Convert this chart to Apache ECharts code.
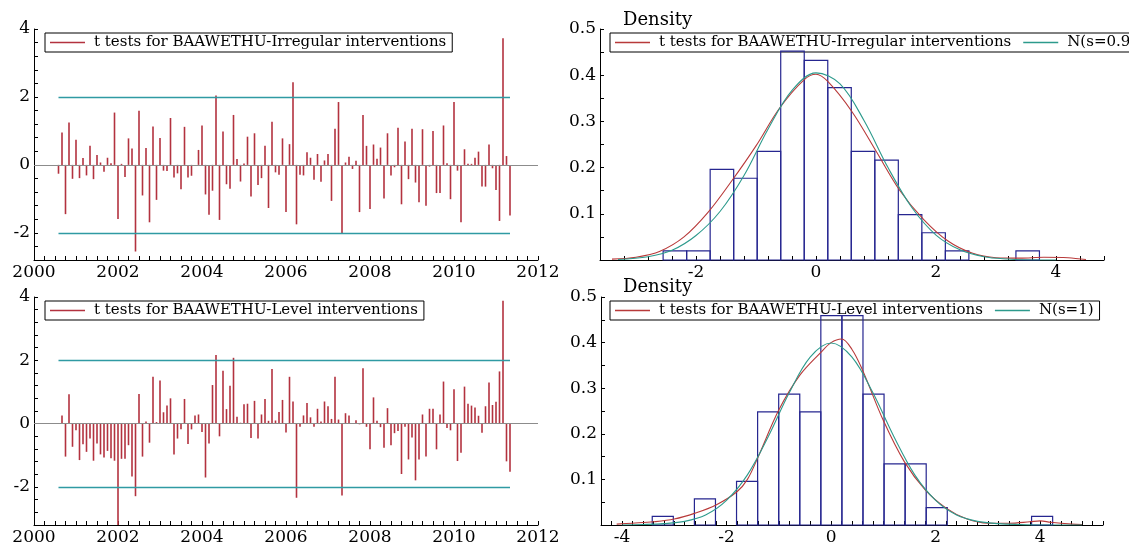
<!DOCTYPE html>
<html>
<head>
<meta charset="utf-8">
<script src="https://cdn.jsdelivr.net/npm/echarts@6/dist/echarts.min.js"></script>
<style>html,body{margin:0;padding:0;background:#fff;}#c{width:1129px;height:546px;}</style>
</head>
<body>
<div id="c"></div>
<script>
// ---------- data ----------
const startYear = 2000, startMonth = 8; // Aug 2000 .. May 2011, monthly
const irregularName = 't tests for BAAWETHU-Irregular interventions';
const levelName = 't tests for BAAWETHU-Level interventions';
const irregularT = [-0.26,0.95,-1.45,1.25,-0.41,0.74,-0.39,0.2,-0.31,0.56,-0.42,0.29,0.07,-0.2,0.21,0.05,1.54,-1.59,0.03,-0.36,
 0.78,0.48,-2.55,1.59,-0.9,0.5,-1.69,1.13,-1.03,0.79,-0.17,-0.18,1.38,-0.37,-0.25,-0.72,1.12,-0.37,-0.32,-0.03,
 0.44,1.16,-0.87,-1.47,-0.76,2.04,-1.62,0.98,-0.57,-0.7,1.47,0.17,-0.49,0.04,0.83,-0.93,0.93,-0.59,-0.39,0.56,
 -1.27,1.27,-0.22,-0.29,0.78,-1.39,0.61,2.43,-1.75,-0.29,-0.31,0.37,0.21,-0.44,0.32,-0.5,0.13,0.32,-1.06,1.06,
 1.85,-2.01,0.07,0.24,-0.12,0.12,-1.39,1.47,0.56,-1.3,0.6,0.18,0.51,-0.99,0.93,-0.31,-0.07,1.09,-1.16,0.69,
 -0.42,1.06,-0.52,-1.1,1.05,-1.2,-0.05,1.0,-0.83,-0.83,1.16,0.05,-1.01,1.85,-0.17,-1.69,0.46,0.03,0.03,0.21,
 0.39,-0.64,-0.64,0.6,-0.1,-0.74,-1.65,3.73,0.26,-1.49];
const levelT = [0,0.26,-1.04,0.93,-0.73,-0.21,-1.15,-0.65,-0.89,-0.47,-1.17,-0.63,-0.97,-1.07,-0.86,-1.09,-1.17,-3.25,-1.11,-1.11,
 -0.68,-1.67,-2.29,0.94,-1.04,0.07,-0.6,1.48,0.05,1.36,0.36,0.57,0.8,-0.97,-0.47,-0.18,0.78,-0.64,-0.18,0.26,
 0.29,-0.26,-1.7,-0.63,1.22,2.17,-0.4,1.67,0.46,1.2,2.08,0.22,0.03,0.61,0.63,-0.45,0.72,-0.47,0.29,0.78,
 0.09,1.73,0.1,0.37,0.75,-0.28,1.48,0.7,-2.34,-0.1,0.26,0.65,0.2,-0.1,0.47,0.07,0.7,0.55,0.15,1.48,
 0.13,-2.27,0.33,0.26,-0.01,0.11,-0.02,1.75,-0.1,-0.81,0.83,0.09,-0.11,-0.76,0.49,-0.68,-0.3,-0.23,-1.59,-0.1,
 -1.13,-0.44,-1.79,-1.13,0.29,-1.04,0.47,0.47,-0.81,0.29,1.33,-0.14,-0.21,1.09,-1.18,-0.92,1.17,0.63,0.57,0.51,
 0.25,-0.29,0.55,1.3,0.59,0.69,1.65,3.88,-1.19,-1.52];
const bandLevels = [2, -2];

// histograms (density per bin)
const irrHistStart = -2.548, irrBinWidth = 0.392;
const irrDensity = [0.0196,0.0196,0.196,0.177,0.235,0.452,0.432,0.373,0.235,0.216,0.098,0.059,0.0196,0,0,0.0196];
const levHistStart = -3.42, levBinWidth = 0.403;
const levDensity = [0.0191,0,0.0573,0,0.0955,0.248,0.287,0.248,0.459,0.459,0.287,0.134,0.134,0.038,0,0,0,0,0.0191];

// density curves: [x, density]
const irrKernel = [[-3.4,0.002],[-3.0,0.006],[-2.6,0.019],[-2.2,0.05],[-1.8,0.103],[-1.4,0.172],[-1.0,0.247],[-0.6,0.33],[-0.2,0.39],[0.0,0.402],
 [0.2,0.386],[0.6,0.321],[1.0,0.236],[1.4,0.15],[1.8,0.087],[2.2,0.041],[2.6,0.015],[3.0,0.005],[3.4,0.004],[3.8,0.006],[4.2,0.005],[4.5,0.001]];
const irrNormalName = 'N(s=0.985)';
const irrNormal = [[-3.3,0.001],[-2.8,0.007],[-2.4,0.021],[-2.0,0.053],[-1.6,0.105],[-1.2,0.183],[-0.8,0.283],[-0.4,0.367],[0.0,0.405],
 [0.4,0.381],[0.8,0.302],[1.2,0.2],[1.6,0.113],[2.0,0.054],[2.4,0.022],[2.8,0.007],[3.2,0.002],[3.6,0.0],[4.0,0.0]];
const levKernel = [[-4.1,0.002],[-3.8,0.004],[-3.4,0.007],[-3.0,0.013],[-2.6,0.026],[-2.2,0.044],[-1.8,0.073],[-1.6,0.1],[-1.4,0.148],[-1.0,0.252],
 [-0.6,0.328],[-0.2,0.378],[0.0,0.4],[0.2,0.408],[0.4,0.385],[0.6,0.34],[1.0,0.229],[1.4,0.139],[1.8,0.077],[2.2,0.037],[2.6,0.013],
 [3.0,0.004],[3.4,0.004],[3.8,0.007],[4.0,0.009],[4.2,0.006],[4.6,0.002],[4.8,0.001]];
const levNormalName = 'N(s=1)';
const levNormal = [[-4.0,0.0],[-3.6,0.001],[-3.2,0.003],[-2.8,0.008],[-2.4,0.022],[-2.0,0.054],[-1.6,0.11],[-1.2,0.194],[-0.8,0.29],[-0.4,0.368],
 [0.0,0.399],[0.4,0.368],[0.8,0.29],[1.2,0.194],[1.6,0.11],[2.0,0.054],[2.4,0.022],[2.8,0.008],[3.2,0.003],[3.6,0.001],[4.0,0.0],[4.8,0.0]];

// ---------- styling ----------
const FONT = 'DejaVu Serif';
const BAR_COLOR = '#b3323f', BAND_COLOR = '#2f9aa3', ZERO_COLOR = '#8c8c8c';
const HIST_COLOR = '#262690', KDE_COLOR = '#b83a3a', NORM_COLOR = '#2c9a8c';

const dates = irregularT.map((_, i) => startYear + (startMonth - 1 + i) / 12);
const isEvenInt = v => Math.abs(v - Math.round(v)) < 1e-6 && Math.round(v) % 2 === 0;

function valueAxis(gridIndex, min, max, interval, formatter, extra) {
  return Object.assign({
    type: 'value', gridIndex, min, max, interval,
    axisLine: { show: true, onZero: false, lineStyle: { color: '#000', width: 1 } },
    axisTick: { show: true, inside: true, length: 4, lineStyle: { color: '#000' } },
    splitLine: { show: false },
    axisLabel: { color: '#000', fontFamily: FONT, fontSize: 17, margin: 4, formatter, showMinLabel: true, showMaxLabel: true, hideOverlap: false }
  }, extra || {});
}
const evenFmt = v => isEvenInt(v) ? String(Math.round(v)) : '';
const densFmt = v => { const t = Math.round(v * 10); return (Math.abs(v * 10 - t) < 1e-6 && t > 0) ? (t / 10).toFixed(1) : ''; };

function barSeries(name, values, idx) {
  const x0 = dates[0], x1 = dates[dates.length - 1];
  const band = { color: BAND_COLOR, width: 1.3, type: 'solid', opacity: 1 };
  return {
    name, type: 'bar', xAxisIndex: idx, yAxisIndex: idx,
    data: values.map((v, i) => [dates[i], v]),
    barWidth: 1.6, itemStyle: { color: BAR_COLOR }, z: 3,
    markLine: {
      silent: true, symbol: 'none', label: { show: false }, animation: false,
      lineStyle: band,
      data: [
        { yAxis: 0, lineStyle: { color: ZERO_COLOR, width: 1, type: 'solid' } },
        ...bandLevels.map(b => [ { coord: [x0, b], lineStyle: band }, { coord: [x1, b], lineStyle: band } ])
      ]
    }
  };
}
function histSeries(start, width, dens, idx) {
  return {
    type: 'custom', xAxisIndex: idx, yAxisIndex: idx, z: 2,
    data: dens.map((d, k) => [start + k * width, start + (k + 1) * width, d]),
    encode: { x: [0, 1], y: 2 },
    renderItem(params, api) {
      const h = api.value(2);
      if (!h) return null;
      const p0 = api.coord([api.value(0), h]);
      const p1 = api.coord([api.value(1), 0]);
      return { type: 'rect', shape: { x: p0[0], y: p0[1], width: p1[0] - p0[0], height: p1[1] - p0[1] },
        style: { fill: 'none', stroke: HIST_COLOR, lineWidth: 1.2 } };
    }
  };
}
function curve(name, data, color, idx) {
  return { name, type: 'line', xAxisIndex: idx, yAxisIndex: idx, data, smooth: 0.35, showSymbol: false,
    lineStyle: { color, width: 1.1 }, itemStyle: { color }, z: 4, silent: true };
}
function legend(left, top, items) {
  return {
    left, top, width: 800, orient: 'horizontal', icon: 'rect', itemWidth: 35, itemHeight: 1.5, itemGap: 12,
    padding: [2, 6, 2, 5], borderColor: '#000', borderWidth: 1, backgroundColor: 'transparent', selectedMode: false, z: 1,
    textStyle: { fontFamily: FONT, fontSize: 15, color: '#000', padding: [0, 0, 0, 4] },
    data: items.map(([name, color]) => ({ name, itemStyle: { color } }))
  };
}

const option = {
  backgroundColor: '#fff',
  animation: false,
  title: [
    { text: 'Density', left: 623, top: 11, padding: 0, textStyle: { fontFamily: FONT, fontSize: 18, fontWeight: 'normal', color: '#000' } },
    { text: 'Density', left: 623, top: 278, padding: 0, textStyle: { fontFamily: FONT, fontSize: 18, fontWeight: 'normal', color: '#000' } }
  ],
  grid: [
    { left: 34, top: 29, width: 504, height: 231 },
    { left: 34, top: 297, width: 504, height: 231 },
    { left: 600, top: 29, width: 504, height: 231 },
    { left: 601, top: 297, width: 502, height: 231 }
  ],
  legend: [
    legend(45, 33, [[irregularName, BAR_COLOR]]),
    legend(45, 301, [[levelName, BAR_COLOR]]),
    legend(610, 33, [[irregularName, KDE_COLOR], [irrNormalName, NORM_COLOR]]),
    legend(610, 301, [[levelName, KDE_COLOR], [levNormalName, NORM_COLOR]])
  ],
  xAxis: [
    valueAxis(0, 2000, 2012, 0.25, evenFmt),
    valueAxis(1, 2000, 2012, 0.25, evenFmt),
    valueAxis(2, -3.6, 4.8, 0.4, evenFmt),
    valueAxis(3, -4.4, 5.2, 0.2, evenFmt)
  ],
  yAxis: [
    valueAxis(0, -2.8, 4, 0.4, evenFmt),
    valueAxis(1, -3.2, 4, 0.4, evenFmt),
    valueAxis(2, 0, 0.5, 0.05, densFmt),
    valueAxis(3, 0, 0.5, 0.05, densFmt)
  ],
  series: [
    barSeries(irregularName, irregularT, 0),
    barSeries(levelName, levelT, 1),
    histSeries(irrHistStart, irrBinWidth, irrDensity, 2),
    curve(irregularName, irrKernel, KDE_COLOR, 2),
    curve(irrNormalName, irrNormal, NORM_COLOR, 2),
    histSeries(levHistStart, levBinWidth, levDensity, 3),
    curve(levelName, levKernel, KDE_COLOR, 3),
    curve(levNormalName, levNormal, NORM_COLOR, 3)
  ]
};
const chart = echarts.init(document.getElementById('c'), null, { renderer: 'canvas' });
chart.setOption(option);
</script>
</body>
</html>
